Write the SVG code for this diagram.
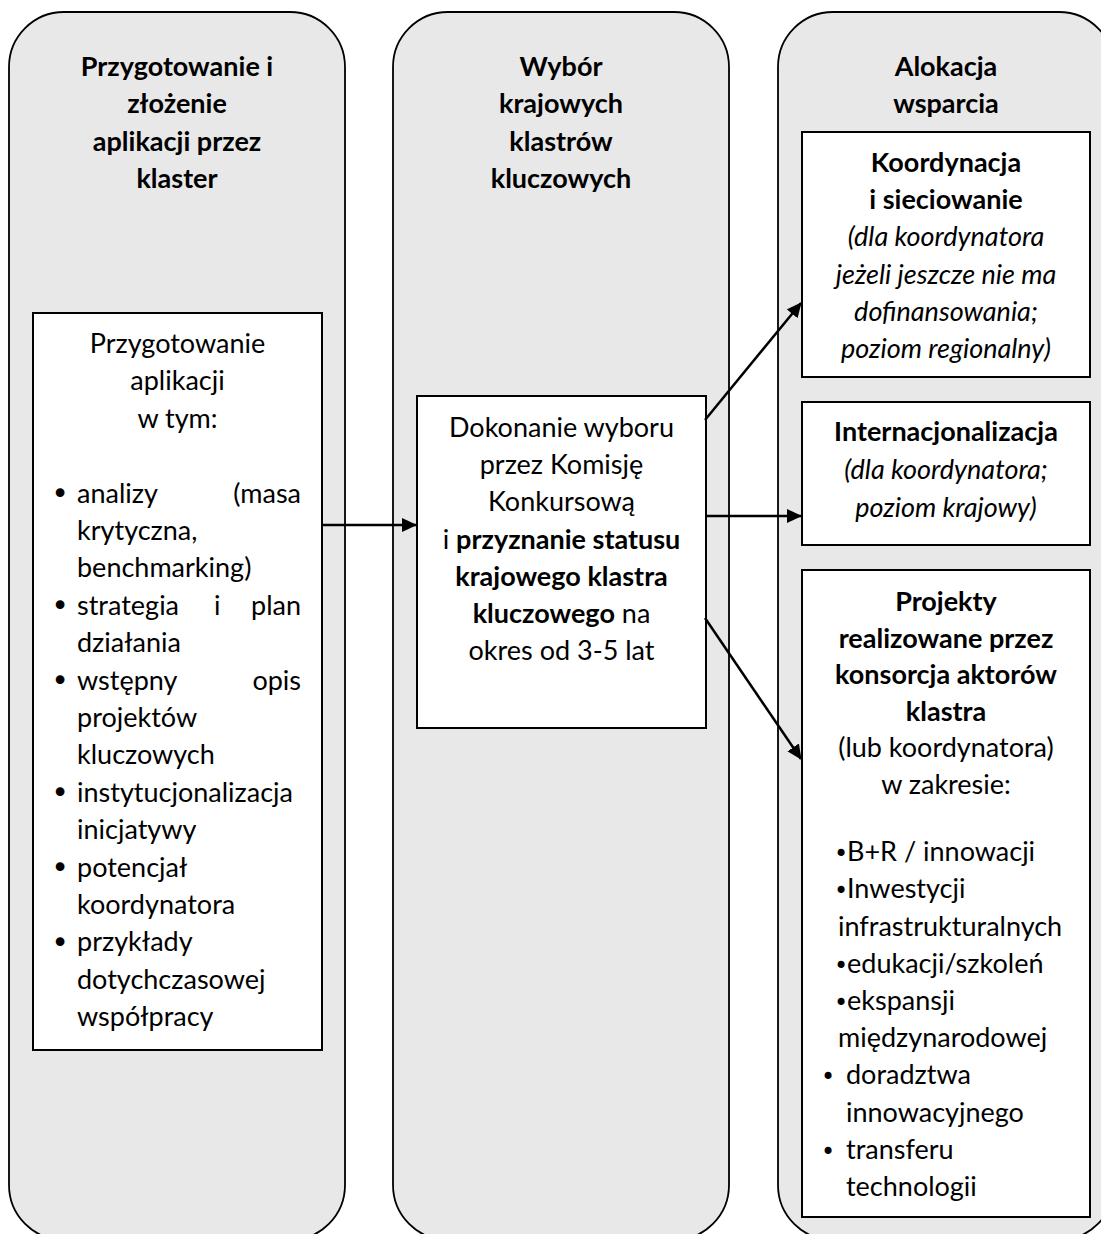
<svg xmlns="http://www.w3.org/2000/svg" width="1101" height="1234" viewBox="0 0 1101 1234">
<style>
.col{fill:#e8e8e8;stroke:#000;stroke-width:1.8}
.box{fill:#fff;stroke:#000;stroke-width:2}
.t{font-family:Lato,"Liberation Sans",sans-serif;font-size:27px;fill:#000}
.b{font-weight:bold}
.i{font-style:italic}
.c{text-anchor:middle}
.e{text-anchor:end}
.bl{font-family:"DejaVu Sans",sans-serif;font-size:30px;text-anchor:middle}
.bs{font-family:"DejaVu Sans",sans-serif;font-size:24px;text-anchor:middle}
.con{stroke:#000;stroke-width:2.5;fill:none;marker-end:url(#ah)}
</style>
<defs>
<marker id="ah" markerUnits="userSpaceOnUse" markerWidth="16" markerHeight="16" refX="14" refY="7" orient="auto">
<path d="M0,0 L15,7 L0,14 z" fill="#000"/>
</marker>
</defs>
<rect width="1101" height="1234" fill="#fff"/>

<g id="col-left">
<rect class="col" x="9" y="12" width="336" height="1228" rx="55" ry="55"/>
<text class="t b c" x="177" y="75.5">Przygotowanie i</text>
<text class="t b c" x="177" y="113">złożenie</text>
<text class="t b c" x="177" y="150.5">aplikacji przez</text>
<text class="t b c" x="177" y="188">klaster</text>
</g>

<g id="col-mid">
<rect class="col" x="393" y="12" width="336" height="1228" rx="55" ry="55"/>
<text class="t b c" x="561" y="75.5">Wybór</text>
<text class="t b c" x="561" y="113">krajowych</text>
<text class="t b c" x="561" y="150.5">klastrów</text>
<text class="t b c" x="561" y="188">kluczowych</text>
</g>

<g id="col-right">
<rect class="col" x="778" y="12" width="336" height="1228" rx="55" ry="55"/>
<text class="t b c" x="946" y="75.5">Alokacja</text>
<text class="t b c" x="946" y="113">wsparcia</text>
</g>

<g id="box-prep">
<rect class="box" x="33" y="313" width="289" height="737"/>
<text class="t c" x="177.5" y="353">Przygotowanie</text>
<text class="t c" x="177.5" y="390.4">aplikacji</text>
<text class="t c" x="177.5" y="427.8">w tym:</text>
<text class="bl" x="60" y="504">•</text>
<text class="t" x="77" y="502.6">analizy</text>
<text class="t e" x="301" y="502.6">(masa</text>
<text class="t" x="77" y="540">krytyczna,</text>
<text class="t" x="77" y="577.4">benchmarking)</text>
<text class="bl" x="60" y="616.2">•</text>
<text class="t" x="77" y="614.8">strategia</text>
<text class="t" x="214" y="614.8">i</text>
<text class="t e" x="301" y="614.8">plan</text>
<text class="t" x="77" y="652.2">działania</text>
<text class="bl" x="60" y="691">•</text>
<text class="t" x="77" y="689.6">wstępny</text>
<text class="t e" x="301" y="689.6">opis</text>
<text class="t" x="77" y="727">projektów</text>
<text class="t" x="77" y="764.4">kluczowych</text>
<text class="bl" x="60" y="803.2">•</text>
<text class="t" x="77" y="801.8">instytucjonalizacja</text>
<text class="t" x="77" y="839.2">inicjatywy</text>
<text class="bl" x="60" y="878">•</text>
<text class="t" x="77" y="876.6">potencjał</text>
<text class="t" x="77" y="914">koordynatora</text>
<text class="bl" x="60" y="952.8">•</text>
<text class="t" x="77" y="951.4">przykłady</text>
<text class="t" x="77" y="988.8">dotychczasowej</text>
<text class="t" x="77" y="1026.2">współpracy</text>
</g>

<g id="box-select">
<rect class="box" x="417" y="396" width="289" height="332"/>
<text class="t c" x="561.5" y="437">Dokonanie wyboru</text>
<text class="t c" x="561.5" y="474.2">przez Komisję</text>
<text class="t c" x="561.5" y="511.4">Konkursową</text>
<text class="t c" x="561.5" y="548.6">i <tspan class="b">przyznanie statusu</tspan></text>
<text class="t c b" x="561.5" y="585.8">krajowego klastra</text>
<text class="t c" x="561.5" y="623"><tspan class="b">kluczowego</tspan> na</text>
<text class="t c" x="561.5" y="660.2">okres od 3-5 lat</text>
</g>

<g id="box-coord">
<rect class="box" x="802" y="132" width="288" height="245"/>
<text class="t b c" x="946" y="172">Koordynacja</text>
<text class="t b c" x="946" y="209.2">i sieciowanie</text>
<text class="t i c" x="946" y="246.4">(dla koordynatora</text>
<text class="t i c" x="946" y="283.6">jeżeli jeszcze nie ma</text>
<text class="t i c" x="946" y="320.8">dofinansowania;</text>
<text class="t i c" x="946" y="358">poziom regionalny)</text>
</g>

<g id="box-intl">
<rect class="box" x="802" y="402" width="288" height="143"/>
<text class="t b c" x="946" y="441">Internacjonalizacja</text>
<text class="t i c" x="946" y="479">(dla koordynatora;</text>
<text class="t i c" x="946" y="517">poziom krajowy)</text>
</g>

<g id="box-proj">
<rect class="box" x="802" y="570" width="288" height="647"/>
<text class="t b c" x="946" y="611">Projekty</text>
<text class="t b c" x="946" y="647.6">realizowane przez</text>
<text class="t b c" x="946" y="684.2">konsorcja aktorów</text>
<text class="t b c" x="946" y="720.8">klastra</text>
<text class="t c" x="946" y="757.4">(lub koordynatora)</text>
<text class="t c" x="946" y="794">w zakresie:</text>
<text class="bs" x="841" y="862.2">•</text>
<text class="t" x="847" y="861.2">B+R / innowacji</text>
<text class="bs" x="841" y="899.4">•</text>
<text class="t" x="847" y="898.4">Inwestycji</text>
<text class="t" x="838" y="935.6">infrastrukturalnych</text>
<text class="bs" x="841" y="973.8">•</text>
<text class="t" x="847" y="972.8">edukacji/szkoleń</text>
<text class="bs" x="841" y="1011">•</text>
<text class="t" x="847" y="1010">ekspansji</text>
<text class="t" x="838" y="1047.2">międzynarodowej</text>
<text class="bs" x="828" y="1085.4">•</text>
<text class="t" x="846" y="1084.4">doradztwa</text>
<text class="t" x="846" y="1121.6">innowacyjnego</text>
<text class="bs" x="828" y="1159.8">•</text>
<text class="t" x="846" y="1158.8">transferu</text>
<text class="t" x="846" y="1196">technologii</text>
</g>

<g id="connectors">
<line class="con" x1="322" y1="525" x2="416" y2="525"/>
<line class="con" x1="706" y1="516" x2="801" y2="516"/>
<line class="con" x1="705" y1="420" x2="801" y2="303"/>
<line class="con" x1="705" y1="618" x2="801" y2="759"/>
</g>
</svg>
